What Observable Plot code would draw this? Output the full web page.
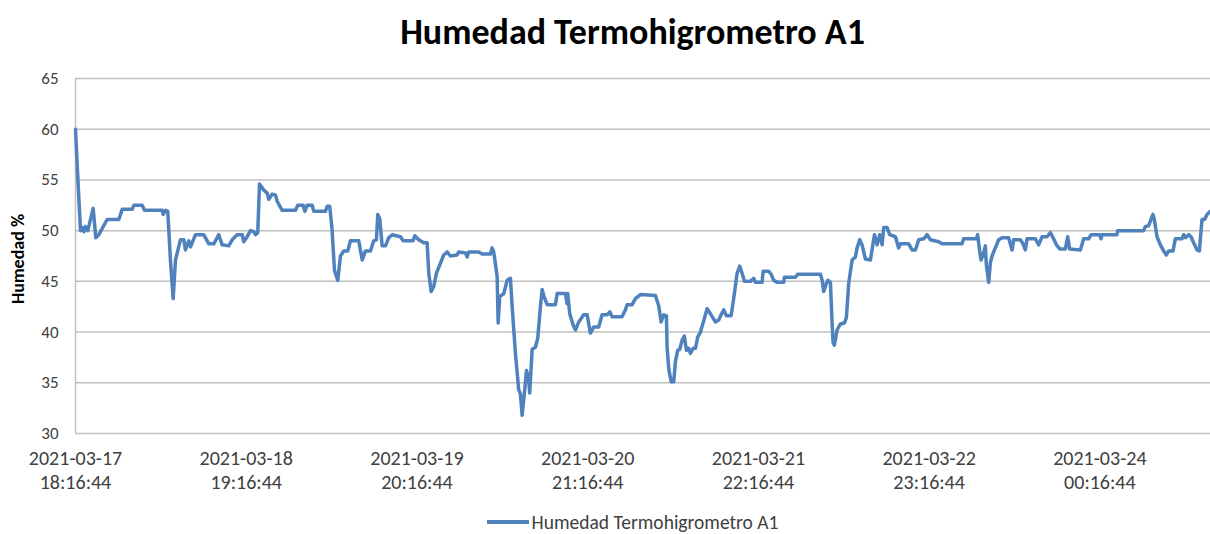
<!DOCTYPE html>
<html><head><meta charset="utf-8">
<script src="https://cdn.jsdelivr.net/npm/d3@7"></script>
<script src="https://cdn.jsdelivr.net/npm/@observablehq/plot@0.6"></script>
<style>
html,body{margin:0;background:#fff;}
body{font-family:Carlito,Calibri,Lato,"Liberation Sans","Open Sans",sans-serif;width:1210px;height:534px;overflow:hidden;}
#title{height:62px;line-height:64px;text-align:center;padding-left:55px;font-size:36px;font-weight:bold;color:#000;white-space:nowrap;}
#legend{margin-top:14px;height:20px;line-height:20px;display:flex;justify-content:center;align-items:center;padding-left:55px;font-size:19.5px;color:#404040;}
#legend svg{margin-right:3px;}
</style></head><body>
<div id="title">Humedad Termohigrometro A1</div>
<div id="chart"></div>
<div id="legend"><svg width="42" height="8"><line x1="0" x2="42" y1="4" y2="4" stroke="#4F81BD" stroke-width="4"/></svg><span>Humedad Termohigrometro A1</span></div>
<script>
const seriesName = "Humedad Termohigrometro A1";
const yLabel = "Humedad %";
const startTime = "2021-03-17T18:16:44Z";
const endHours = 166.2;
const tickTimes = ["2021-03-17T18:16:44Z","2021-03-18T19:16:44Z","2021-03-19T20:16:44Z","2021-03-20T21:16:44Z","2021-03-21T22:16:44Z","2021-03-22T23:16:44Z","2021-03-24T00:16:44Z"];
const yTicks = [30,35,40,45,50,55,60,65];

const hoursSinceStart = [
0,0.34,0.73,0.98,1.22,1.46,1.80,2.59,2.97,3.41,
4.64,6.34,6.84,8.30,8.54,9.77,10.10,12.69,12.84,13.18,
13.51,13.91,14.30,14.64,15.37,15.86,16.10,16.59,16.84,17.57,
18.78,19.52,20.25,20.98,21.48,22.44,22.94,23.67,24.41,24.64,
25.14,25.62,26.11,26.35,26.69,26.94,27.57,28.07,28.30,28.80,
29.28,29.53,30.26,32.21,32.55,33.34,33.58,33.92,34.66,34.89,
36.60,36.85,37.23,37.58,37.92,38.40,38.80,39.28,39.87,40.26,
41.48,41.98,42.46,43.19,43.67,44.07,44.26,44.55,44.90,45.39,
45.87,46.37,47.58,47.98,49.44,49.68,50.26,50.99,51.49,51.73,
52.08,52.46,52.85,53.44,53.92,54.42,54.90,55.88,56.12,57.10,
57.35,57.58,59.05,59.54,60.76,61.01,61.24,61.74,61.89,62.12,
62.71,63.21,63.69,63.94,64.42,64.90,65.15,65.40,65.74,66.03,
66.32,66.51,66.87,67.35,67.69,68.08,68.33,68.56,69.06,70.28,
70.53,71.74,71.99,72.08,72.37,72.87,73.21,73.69,74.42,74.92,
75.40,75.89,76.62,77.11,77.85,78.23,78.58,80.04,80.53,80.77,
81.51,81.99,82.72,84.92,85.40,85.75,86.13,86.53,86.63,86.87,
87.22,87.60,87.85,88.18,88.48,88.83,89.16,89.46,89.79,90.04,
90.44,90.78,91.11,91.51,91.90,92.49,92.97,93.70,94.19,94.54,
94.92,95.32,96.00,96.38,96.68,96.88,97.26,97.61,97.95,98.83,
99.31,99.56,100.54,100.69,101.51,101.86,102.24,102.74,103.70,103.81,
105.42,105.75,109.08,109.33,109.56,109.95,110.20,110.54,110.79,110.93,
111.12,111.52,112.00,112.59,112.88,113.22,113.72,114.20,114.45,114.83,
115.18,115.67,116.40,116.99,117.38,117.76,118.12,118.35,118.85,119.23,
120.06,120.54,120.79,122.01,122.50,122.99,123.47,124.20,124.70,125.18,
126.40,126.89,129.82,130.06,131.92,132.10,132.40,132.60,132.98,133.23,
133.38,133.72,133.96,134.21,134.69,135.18,135.68,136.64,137.14,137.38,
138.36,138.75,139.09,139.34,140.55,141.04,141.54,142.27,142.75,143.15,
143.64,144.12,144.95,145.29,145.58,147.14,147.63,148.36,148.71,149.97,
150.17,150.32,152.51,152.60,156.41,156.65,157.14,157.78,157.97,158.37,
158.86,159.34,159.74,160.07,160.72,161.05,162.03,162.27,162.52,163.00,
163.35,163.73,164.23,164.57,164.96,165.34,165.69,166.17
];
const humidity = [
60.0,55.2,50.0,50.3,49.9,50.4,50.0,52.2,49.3,49.6,
51.1,51.1,52.1,52.1,52.5,52.5,52.0,52.0,51.6,52.0,
51.9,47.0,43.3,47.1,49.1,49.1,48.1,49.0,48.4,49.6,
49.6,48.7,48.7,49.6,48.6,48.5,49.1,49.6,49.6,48.9,
49.4,50.0,49.9,49.6,49.8,54.6,54.0,53.7,53.1,53.6,
53.5,52.9,52.0,52.0,52.5,52.5,51.9,52.5,52.5,51.9,
51.9,52.4,52.4,50.0,46.1,45.1,47.5,48.0,48.0,49.0,
49.0,47.1,48.0,48.0,49.0,49.1,51.6,51.2,48.5,48.5,
49.3,49.6,49.4,49.0,49.0,49.5,49.1,48.8,48.8,45.8,
44.0,44.5,45.8,46.8,47.6,47.9,47.5,47.6,47.9,47.8,
47.4,47.9,47.9,47.7,47.7,48.3,47.9,45.5,40.9,43.5,
43.8,45.1,45.3,42.5,37.9,34.3,33.9,31.8,34.0,36.2,
35.6,34.0,38.3,38.5,39.4,42.5,44.2,43.6,42.7,42.7,
43.8,43.8,42.8,43.8,41.8,40.7,40.2,41.0,41.7,41.7,
39.9,40.5,40.5,41.7,41.7,42.0,41.5,41.5,42.2,42.7,
42.7,43.3,43.7,43.6,42.6,41.0,41.7,41.6,38.5,36.4,
35.1,35.1,37.1,38.2,38.3,39.2,39.6,38.2,38.4,37.9,
38.4,38.4,39.5,40.0,40.9,42.3,41.8,41.0,41.2,41.7,
42.2,41.6,41.6,43.3,44.8,45.8,46.5,45.8,45.0,45.0,
45.3,44.9,44.9,46.0,46.0,45.7,45.1,44.9,44.9,45.4,
45.4,45.7,45.7,45.1,44.0,44.8,45.1,44.9,40.9,39.0,
38.7,40.2,40.8,40.9,41.4,44.8,47.1,47.4,48.3,49.1,
48.6,47.2,47.1,49.6,48.6,49.6,48.6,50.3,50.3,49.6,
49.4,48.3,48.7,48.7,48.1,48.1,49.1,49.2,49.6,49.1,
48.9,48.7,48.7,49.2,49.2,49.6,48.0,47.1,47.8,48.5,
46.6,44.9,46.8,47.5,48.3,49.1,49.3,49.3,48.1,49.1,
49.1,48.7,48.1,49.2,49.2,48.6,49.4,49.4,49.8,49.3,
48.6,48.2,48.2,49.4,48.2,48.1,49.2,49.2,49.6,49.6,
49.2,49.6,49.6,50.0,50.0,50.4,50.5,51.6,51.1,49.4,
48.6,48.0,47.6,48.0,48.0,49.2,49.2,49.6,49.3,49.6,
49.4,48.8,48.1,48.0,51.1,51.1,51.6,51.9
];

const t0 = new Date(startTime);
const toTime = h => new Date(+t0 + h * 3600e3);
const data = hoursSinceStart.map((h, i) => ({time: toTime(h), value: humidity[i], series: seriesName}));
const fmt = d3.utcFormat("%Y-%m-%d\n%H:%M:%S");

const chart = Plot.plot({
  width: 1210,
  height: 436,
  marginTop: 16,
  marginBottom: 65,
  marginLeft: 75,
  marginRight: 0,
  style: {fontFamily: 'Carlito, Calibri, Lato, "Liberation Sans", "Open Sans", sans-serif', background: "#fff", display: "block"},
  x: {type: "utc", domain: [t0, toTime(endHours)]},
  y: {domain: [30, 65]},
  marks: [
    Plot.gridY(yTicks, {stroke: "#BFBFBF", strokeOpacity: 1, strokeWidth: 1.5}),
    Plot.ruleX([t0], {stroke: "#BFBFBF", strokeWidth: 1.5}),
    Plot.axisY(yTicks, {tickSize: 0, tickPadding: 17, fontSize: 17, fill: "#404040", label: null}),
    Plot.axisX(tickTimes.map(s => new Date(s)), {tickSize: 0, tickPadding: 14, fontSize: 20, fill: "#404040", lineHeight: 1.2, tickFormat: fmt, label: null}),
    Plot.text([yLabel], {frameAnchor: "left", text: d => d, rotate: -90, textAnchor: "middle", dx: -57, dy: 3, fontWeight: "bold", fontSize: 18, fill: "#000"}),
    Plot.line(data, {x: "time", y: "value", stroke: "#4F81BD", strokeWidth: 3.5, strokeLinejoin: "round", strokeLinecap: "round"})
  ]
});
document.getElementById("chart").appendChild(chart);
</script>
</body></html>
